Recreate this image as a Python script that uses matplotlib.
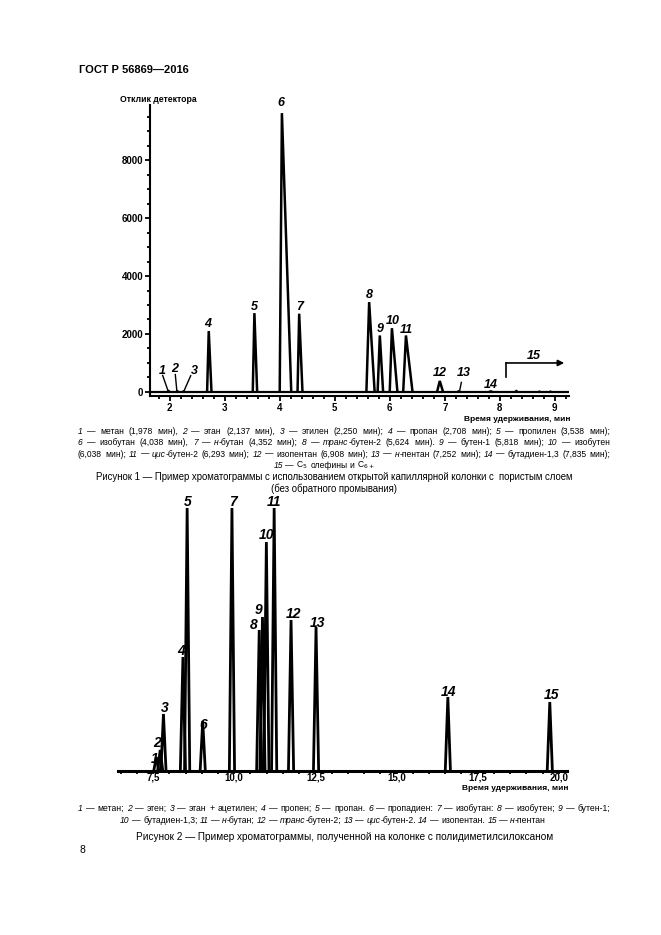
import matplotlib
matplotlib.use('Agg')
import matplotlib.pyplot as plt
from matplotlib.ticker import MultipleLocator, FixedLocator, FuncFormatter

plt.rcParams['font.family'] = ['Liberation Sans', 'DejaVu Sans']

W, H = 661, 935

# ---- Figure 1: retention times (min), detector response, peak base half-widths
t1 = [1.978, 2.137, 2.250, 2.708, 3.538, 4.038, 4.352, 5.624, 5.818, 6.038, 6.293, 6.908, 7.252, 7.835]
h1 = [30, 20, 15, 2100, 2720, 9620, 2700, 3100, 1950, 2200, 1950, 380, 20, 20]
wl1 = [0.02, 0.02, 0.02, 0.03, 0.03, 0.04, 0.03, 0.05, 0.04, 0.04, 0.05, 0.05, 0.02, 0.03]
wr1 = [0.02, 0.02, 0.02, 0.05, 0.05, 0.17, 0.06, 0.10, 0.06, 0.10, 0.12, 0.06, 0.02, 0.03]
# C5 olefins and C6+ group (small bumps)
t15 = [8.30, 8.72, 8.92]
h15 = [60, 30, 30]
labels1 = ['1', '2', '3', '4', '5', '6', '7', '8', '9', '10', '11', '12', '13', '14']
lab1_pos = [(1.86, 720), (2.09, 790), (2.44, 720), (2.69, 2340), (3.53, 2930), (4.02, 9960),
            (4.36, 2930), (5.62, 3340), (5.82, 2170), (6.05, 2450), (6.30, 2140), (6.90, 650),
            (7.34, 650), (7.83, 240)]
yticks1 = [0, 2000, 4000, 6000, 8000]
xticks1 = [2, 3, 4, 5, 6, 7, 8, 9]

# ---- Figure 2: retention times (min), relative heights
t2 = [7.60, 7.72, 7.82, 8.42, 8.55, 9.03, 9.93, 10.77, 10.87, 10.99, 11.23, 11.75, 12.52, 16.58, 19.72]
h2 = [14, 21, 57, 114, 263, 50, 263, 141, 154, 229, 263, 151, 144, 74, 69]
labels2 = [str(i) for i in range(1, 16)]
lab2_pos = [(7.55, 12), (7.62, 28), (7.85, 63), (8.36, 120), (8.56, 269), (9.05, 46),
            (9.97, 269), (10.61, 146), (10.76, 161), (10.98, 236), (11.23, 269), (11.82, 157),
            (12.56, 148), (16.60, 79), (19.77, 76)]
xticks2 = [7.5, 10.0, 12.5, 15.0, 17.5, 20.0]

cap1 = [
    "*1* — метан (1,978 мин), *2* — этан (2,137 мин), *3* — этилен (2,250 мин); *4* — пропан (2,708 мин); *5* — пропилен (3,538 мин);",
    "*6* — изобутан (4,038 мин), *7* — *н*-бутан (4,352 мин); *8* — *транс*-бутен-2 (5,624 мин). *9* — бутен-1 (5,818 мин); *10* — изобутен",
    "(6,038 мин); *11* — *цис*-бутен-2 (6,293 мин); *12* — изопентан (6,908 мин); *13* — *н*-пентан (7,252 мин); *14* — бутадиен-1,3 (7,835 мин);",
    "*15* — C$_5$ олефины и C$_{6+}$",
]
cap2 = [
    "*1* — метан; *2* — этен; *3* — этан + ацетилен; *4* — пропен; *5* — пропан. *6* — пропадиен: *7* — изобутан: *8* — изобутен; *9* — бутен-1;",
    "*10* — бутадиен-1,3; *11* — *н*-бутан; *12* — *транс*-бутен-2; *13* — *цис*-бутен-2. *14* — изопентан. *15* — *н*-пентан",
]

fig = plt.figure(figsize=(W / 100, H / 100), dpi=100)
rend = fig.canvas.get_renderer()


def split_words(line):
    italic = False
    words = []
    for w in line.split(' '):
        parts = []
        for i, p in enumerate(w.split('*')):
            if i > 0:
                italic = not italic
            if p:
                parts.append((p, italic))
        words.append(parts)
    return words


def space_width(size):
    a = fig.text(0, 0, 'x x', fontsize=size)
    b = fig.text(0, 0, 'xx', fontsize=size)
    sp = a.get_window_extent(rend).width - b.get_window_extent(rend).width
    a.remove()
    b.remove()
    return sp


def rich_line(y, line, size, justify=True, left=78, right=610, cx=335, draw=True):
    words = split_words(line)
    objs, widths = [], []
    for parts in words:
        row = []
        for p, it in parts:
            t = fig.text(0, 1 - y / H, p, fontsize=size, va='baseline',
                         style='italic' if it else 'normal')
            row.append((t, t.get_window_extent(rend).width))
        objs.append(row)
        widths.append(sum(w for _, w in row))
    sp = space_width(size)
    if not draw:
        for row in objs:
            for t, _ in row:
                t.remove()
        return sum(widths) + sp * (len(words) - 1)
    if justify:
        gap = (right - left - sum(widths)) / (len(words) - 1)
        x = left
    else:
        gap = sp
        x = cx - (sum(widths) + gap * (len(words) - 1)) / 2
    for row in objs:
        for t, w in row:
            t.set_x(x / W)
            x += w
        x += gap


def fit_size(lines, target=532, base=6.0):
    widest = max(rich_line(0, ln, base, draw=False) for ln in lines)
    return base * target / widest * 0.985


def peak(ax, t, h, wl, wr, lw):
    ax.plot([t - wl, t, t + wr], [0, h, 0], color='k', lw=lw, solid_joinstyle='miter',
            solid_capstyle='butt')


# ---------------- Figure 1 ----------------
ax1 = fig.add_axes([150 / W, 1 - 396.3 / H, 418.6 / W, 291.3 / H])
ax1.set_xlim(1.64, 9.25)
ax1.set_ylim(-150, 9900)
ax1.plot([1.64, 9.25], [0, 0], color='k', lw=1.6)
for t, h, a, b in zip(t1, h1, wl1, wr1):
    peak(ax1, t, h, a, b, 1.8)
for t, h in zip(t15, h15):
    peak(ax1, t, h, 0.03, 0.03, 1.0)
for lab, (x, y) in zip(labels1, lab1_pos):
    ax1.text(x, y, lab, fontsize=9, fontweight='bold', style='italic', ha='center',
             va='center', clip_on=False)
# leader lines for minor components
ax1.plot([1.87, 1.975], [570, 0], color='k', lw=1.0)
ax1.plot([2.10, 2.13], [600, 0], color='k', lw=1.0)
ax1.plot([2.38, 2.25], [560, 0], color='k', lw=1.0)
ax1.plot([7.27, 7.30], [50, 330], color='k', lw=1.0)
# group 15
ax1.plot([8.12, 8.12], [500, 1000], color='k', lw=1.2)
ax1.annotate('', xy=(9.17, 1000), xytext=(8.11, 1000),
             arrowprops=dict(arrowstyle='-|>', lw=1.2, color='k', mutation_scale=9,
                             shrinkA=0, shrinkB=0))
ax1.text(8.62, 1250, '15', fontsize=9, fontweight='bold', style='italic', ha='center', va='center')

for s in ['top', 'right']:
    ax1.spines[s].set_visible(False)
for s in ['left', 'bottom']:
    ax1.spines[s].set_linewidth(1.5)
ax1.yaxis.set_major_locator(FixedLocator(yticks1))
ax1.yaxis.set_minor_locator(MultipleLocator(500))
ax1.xaxis.set_major_locator(FixedLocator(xticks1))
ax1.xaxis.set_minor_locator(MultipleLocator(0.2))
ax1.tick_params(which='both', direction='out', width=1.3, length=3.5, pad=1.5,
                labelsize=7)
ax1.tick_params(which='minor', length=2.5)
for lab in ax1.get_xticklabels() + ax1.get_yticklabels():
    lab.set_fontweight('bold')
fig.text(120 / W, 1 - 102 / H, 'Отклик детектора', fontsize=6.2, fontweight='bold')
fig.text(571 / W, 1 - 421 / H, 'Время удерживания, мин', fontsize=6, fontweight='bold', ha='right')

# ---------------- Figure 2 ----------------
ax2 = fig.add_axes([118 / W, 164 / H, 449 / W, 275 / H])
ax2.set_xlim(6.42, 20.25)
ax2.set_ylim(0, 275)
for t, h in zip(t2, h2):
    peak(ax2, t, h, 0.08, 0.08, 2.0)
for lab, (x, y) in zip(labels2, lab2_pos):
    ax2.text(x, y, lab, fontsize=10, fontweight='bold', style='italic', ha='center',
             va='center', clip_on=False)
for s in ['top', 'right', 'left']:
    ax2.spines[s].set_visible(False)
ax2.spines['bottom'].set_linewidth(2.2)
ax2.set_yticks([])
ax2.xaxis.set_major_locator(FixedLocator(xticks2))
ax2.xaxis.set_minor_locator(MultipleLocator(0.5))
ax2.xaxis.set_major_formatter(FuncFormatter(lambda v, p: f'{v:.1f}'.replace('.', ',')))
ax2.tick_params(which='both', direction='out', width=1.3, length=2.5, pad=-1.2, labelsize=7)
for lab in ax2.get_xticklabels():
    lab.set_fontweight('bold')
fig.text(568 / W, 1 - 790 / H, 'Время удерживания, мин', fontsize=6, fontweight='bold', ha='right')

# ---------------- page text ----------------
fig.text(79 / W, 1 - 73 / H, 'ГОСТ Р 56869—2016', fontsize=8, fontweight='bold')
s1 = fit_size(cap1[:3])
for i, line in enumerate(cap1):
    rich_line(434 + i * 11.3, line, s1, justify=(i < 3), cx=324)
fig.text(334 / W, 1 - 480 / H,
         'Рисунок 1 — Пример хроматограммы с использованием открытой капиллярной колонки с  пористым слоем',
         fontsize=6.9, ha='center', va='baseline')
fig.text(334 / W, 1 - 492 / H, '(без обратного промывания)', fontsize=6.9, ha='center', va='baseline')
s2 = fit_size(cap2[:1])
rich_line(811, cap2[0], s2, justify=True)
rich_line(823, cap2[1], s2, justify=False, cx=333)
fig.text(345 / W, 1 - 840 / H,
         'Рисунок 2 — Пример хроматограммы, полученной на колонке с полидиметилсилоксаном',
         fontsize=7.2, ha='center', va='baseline')
fig.text(79 / W, 1 - 853 / H, '8', fontsize=7.5, va='baseline')

fig.savefig('out.png', dpi=100)
